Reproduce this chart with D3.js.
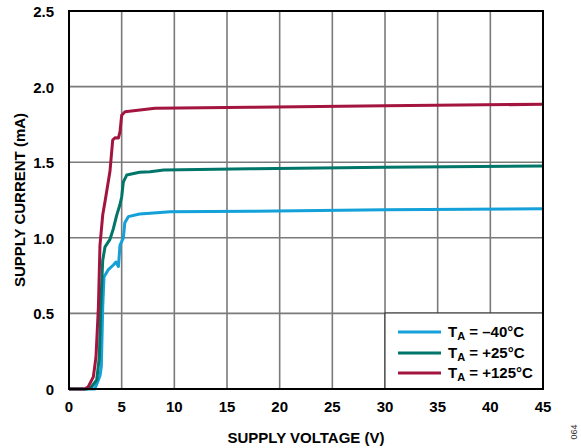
<!DOCTYPE html>
<html><head><meta charset="utf-8">
<script src="https://cdn.jsdelivr.net/npm/d3@7"></script>
<style>body{margin:0;background:#fff}svg{display:block}text{font-family:"Liberation Sans",Arial,sans-serif}</style>
</head><body>
<svg id="c" width="581" height="448"></svg>
<script>
const xTicks = [0,5,10,15,20,25,30,35,40,45];
const yTicks = [0,0.5,1.0,1.5,2.0,2.5];
const yTickLabels = ["0","0.5","1.0","1.5","2.0","2.5"];
const seriesNames = ["T_A = \u201340\u00b0C","T_A = +25\u00b0C","T_A = +125\u00b0C"];
const seriesColors = ["#14a0d8","#00766a","#a3153f"];
// [voltage, current]
const blue = [[0,0],[2.45,0],[2.79,0.06],[2.95,0.09],[3.07,0.15],[3.2,0.54],[3.32,0.74],[3.74,0.79],[4.21,0.82],[4.46,0.84],[4.69,0.81],[4.84,0.95],[5.16,1.0],[5.3,1.1],[5.63,1.14],[6.7,1.157],[7.7,1.163],[9.6,1.173],[17.2,1.175],[30,1.185],[45,1.192]];
const green = [[0,0],[1.7,0],[2.15,0.015],[2.63,0.06],[2.88,0.21],[3.01,0.54],[3.2,0.85],[3.42,0.94],[3.89,0.99],[4.21,1.06],[4.53,1.15],[4.84,1.22],[5.0,1.27],[5.16,1.37],[5.48,1.415],[6.7,1.433],[7.7,1.437],[9.0,1.448],[17.2,1.457],[30,1.467],[45,1.475]];
const red = [[0,0],[1.5,0],[1.83,0.015],[2.31,0.08],[2.56,0.21],[2.79,0.54],[2.94,0.95],[3.2,1.15],[3.42,1.24],[3.89,1.44],[4.15,1.647],[4.37,1.662],[4.69,1.66],[4.84,1.70],[5.0,1.81],[5.32,1.834],[6.74,1.845],[8.17,1.857],[17.2,1.863],[30,1.873],[45,1.883]];
const seriesData = [blue, green, red];

const svg = d3.select("#c");
const x = d3.scaleLinear().domain([0,45]).range([69,543]);
const y = d3.scaleLinear().domain([0,2.5]).range([389,11]);

// gridlines
const g = svg.append("g");
g.selectAll(".vg").data(xTicks.slice(1,-1)).join("line")
  .attr("x1",d=>x(d)).attr("x2",d=>x(d)).attr("y1",y(2.5)).attr("y2",y(0))
  .attr("stroke","#7a7a7a").attr("stroke-width",1.6);
g.selectAll(".hg").data(yTicks.slice(1,-1)).join("line")
  .attr("y1",d=>y(d)).attr("y2",d=>y(d)).attr("x1",x(0)).attr("x2",x(45))
  .attr("stroke","#7a7a7a").attr("stroke-width",1.6);

// legend box
svg.append("rect").attr("x",385).attr("y",313).attr("width",x(45)-385).attr("height",y(0)-313)
  .attr("fill","#fff").attr("stroke","#222").attr("stroke-width",1);

// lines
const line = d3.line().x(d=>x(d[0])).y(d=>y(d[1]));
seriesData.forEach((s,i)=>{
  svg.append("path").datum(s).attr("d",line).attr("fill","none")
    .attr("stroke",seriesColors[i]).attr("stroke-width",3).attr("stroke-linejoin","round");
});

// border
svg.append("rect").attr("x",x(0)).attr("y",y(2.5)).attr("width",x(45)-x(0)).attr("height",y(0)-y(2.5))
  .attr("fill","none").attr("stroke","#000").attr("stroke-width",2);

// tick labels
svg.selectAll(".xt").data(xTicks).join("text")
  .attr("x",d=>x(d)).attr("y",412).attr("text-anchor","middle")
  .attr("font-size",15).attr("font-weight","bold").text(d=>d);
svg.selectAll(".yt").data(yTicks).join("text")
  .attr("x",54).attr("y",d=>y(d)+6).attr("text-anchor","end")
  .attr("font-size",15).attr("font-weight","bold").text((d,i)=>yTickLabels[i]);

// axis titles
svg.append("text").attr("x",306).attr("y",443).attr("text-anchor","middle")
  .attr("font-size",15).attr("font-weight","bold").text("SUPPLY VOLTAGE (V)");
svg.append("text").attr("transform","translate(25,200) rotate(-90)").attr("text-anchor","middle")
  .attr("font-size",15).attr("font-weight","bold").text("SUPPLY CURRENT (mA)");
svg.append("text").attr("transform","translate(577,432) rotate(-90)").attr("text-anchor","middle")
  .attr("font-size",9).attr("fill","#333").text("064");

// legend entries
const rows = [332,353,373];
seriesNames.forEach((n,i)=>{
  svg.append("line").attr("x1",398).attr("x2",441).attr("y1",rows[i]).attr("y2",rows[i])
    .attr("stroke",seriesColors[i]).attr("stroke-width",3);
  const parts = n.split(" = ");
  const t = svg.append("text").attr("x",448).attr("y",rows[i]+5).attr("font-size",15).attr("font-weight","bold");
  t.append("tspan").text("T");
  t.append("tspan").attr("font-size",11).attr("dy",3).text("A");
  t.append("tspan").attr("dy",-3).text(" = "+parts[1]);
});
</script>
</body></html>
